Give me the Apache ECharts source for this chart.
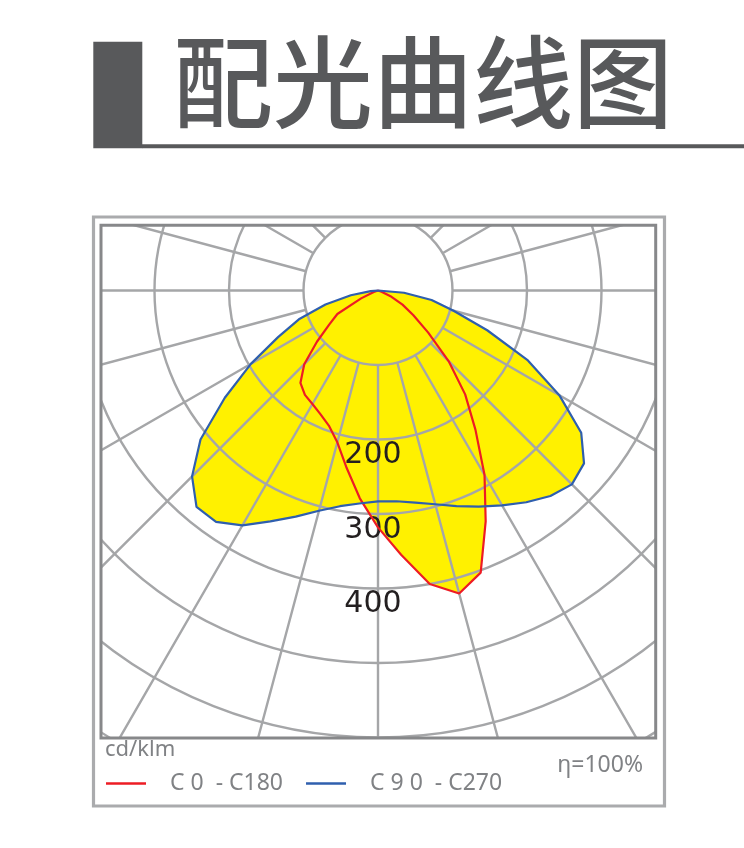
<!DOCTYPE html>
<html>
<head>
<meta charset="utf-8">
<script src="https://cdn.jsdelivr.net/npm/echarts@6/dist/echarts.min.js"></script>
<style>
html,body{margin:0;padding:0;background:#ffffff;}
#chart{width:744px;height:848px;}
</style>
</head>
<body>
<div id="chart"></div>
<script>
// ---- data ----
const titleText = '配光曲线图';
const unitText = 'cd/klm';
const effText = 'η=100%';
const seriesNames = ['C 0  - C180', 'C 9 0  - C270'];
// gamma angle in degrees (0 = straight down, positive = right-hand side)
const gamma = [-90, -85, -80, -75, -70, -65, -60, -55, -50, -45, -40, -35, -30, -25, -20, -15, -10, -5,
  0, 5, 10, 15, 20, 25, 30, 35, 40, 45, 50, 55, 60, 65, 70, 75, 80, 85, 90];
// luminous intensity, cd/klm
const c0c180 = [0, 0, 0, 0, 6, 25, 63, 80, 107, 140, 162, 171, 176, 183, 193, 211, 242, 280,
  318, 356, 400, 421, 403, 342, 286, 228, 182, 134, 88, 58, 38, 20, 5, 0, 0, 0, 0];
const c90c270 = [0, 10, 37, 73, 113, 148, 197, 251, 311, 353, 379, 379, 364, 342, 323, 306, 294, 287,
  283, 284, 289, 297, 308, 320, 333, 347, 360, 368, 361, 333, 281, 222, 156, 105, 73, 35, 0];
const ringLabels = [200, 300, 400];

// ---- colours ----
const gridColor = '#a5a6a8';
const redColor = '#ed1c24';
const blueColor = '#2f5fae';
const fillColor = '#fff100';
const textGray = '#808285';
const darkGray = '#58595b';

const toPolar = (vals) => gamma.map((g, i) => [vals[i], g]);

const chart = echarts.init(document.getElementById('chart'), null, {renderer: 'canvas'});

const center = [378, 290.5];

const option = {
  animation: false,
  backgroundColor: '#ffffff',
  polar: [
    {center: center, radius: [74.5, 596]},
    {center: center, radius: [0, 596]}
  ],
  angleAxis: [
    {
      polarIndex: 0, type: 'value', min: 0, max: 360, interval: 15,
      startAngle: 270, clockwise: false, z: 3,
      axisLine: {show: false}, axisTick: {show: false}, axisLabel: {show: false},
      splitLine: {show: true, lineStyle: {color: gridColor, width: 2.4}}
    },
    {
      polarIndex: 1, type: 'value', min: -180, max: 180,
      startAngle: 90, clockwise: false, show: false
    }
  ],
  radiusAxis: [
    {
      polarIndex: 0, type: 'value', min: 100, max: 800, interval: 100, z: 3,
      axisLine: {show: false}, axisTick: {show: false},
      axisLabel: {
        show: true, margin: 0, align: 'center', verticalAlign: 'top',
        padding: [1, 10, 0, 0],
        color: '#231f20', fontSize: 30, fontFamily: 'DejaVu Sans',
        formatter: function (v) { return ringLabels.indexOf(v) >= 0 ? String(v) : ''; }
      },
      splitLine: {show: true, lineStyle: {color: gridColor, width: 2.4}}
    },
    {polarIndex: 1, type: 'value', min: 0, max: 800, show: false}
  ],
  legend: {
    show: true, left: 106, top: 772, padding: 0, z: 20,
    itemWidth: 40, itemHeight: 2.4, itemGap: 23, icon: 'rect',
    selectedMode: false,
    data: seriesNames,
    textStyle: {color: textGray, fontSize: 23, fontFamily: 'Noto Sans', padding: [0, 0, 0, 19]}
  },
  series: [
    {
      name: 'fill-c0', type: 'line', coordinateSystem: 'polar', polarIndex: 1,
      data: toPolar(c0c180), symbol: 'none', z: 1, silent: true,
      lineStyle: {opacity: 0}, areaStyle: {color: fillColor, opacity: 1}
    },
    {
      name: 'fill-c90', type: 'line', coordinateSystem: 'polar', polarIndex: 1,
      data: toPolar(c90c270), symbol: 'none', z: 1, silent: true,
      lineStyle: {opacity: 0}, areaStyle: {color: fillColor, opacity: 1}
    },
    {
      name: seriesNames[0], type: 'line', coordinateSystem: 'polar', polarIndex: 1,
      data: toPolar(c0c180), symbol: 'none', z: 5,
      itemStyle: {color: redColor}, lineStyle: {color: redColor, width: 2.2}
    },
    {
      name: seriesNames[1], type: 'line', coordinateSystem: 'polar', polarIndex: 1,
      data: toPolar(c90c270), symbol: 'none', z: 5,
      itemStyle: {color: blueColor}, lineStyle: {color: blueColor, width: 2.2}
    }
  ],
  graphic: {
    elements: [
      // masks outside the plot frame
      {type: 'rect', z: 10, silent: true, shape: {x: 0, y: 0, width: 744, height: 225}, style: {fill: '#fff'}},
      {type: 'rect', z: 10, silent: true, shape: {x: 0, y: 0, width: 101, height: 848}, style: {fill: '#fff'}},
      {type: 'rect', z: 10, silent: true, shape: {x: 655.7, y: 0, width: 90, height: 848}, style: {fill: '#fff'}},
      {type: 'rect', z: 10, silent: true, shape: {x: 0, y: 738, width: 744, height: 110}, style: {fill: '#fff'}},
      // frames
      {type: 'rect', z: 11, silent: true, shape: {x: 93.5, y: 217, width: 571, height: 589},
        style: {fill: 'none', stroke: '#aaabad', lineWidth: 3.2}},
      {type: 'rect', z: 11, silent: true, shape: {x: 101, y: 225.3, width: 554.7, height: 512.7},
        style: {fill: 'none', stroke: '#87888a', lineWidth: 3}},
      // title block
      {type: 'rect', z: 12, silent: true, shape: {x: 93.3, y: 41.7, width: 49, height: 106.5}, style: {fill: darkGray}},
      {type: 'rect', z: 12, silent: true, shape: {x: 142, y: 144.3, width: 602, height: 4}, style: {fill: darkGray}},
      {type: 'text', z: 12, silent: true, x: 173, y: 82,
        style: {text: titleText, fill: darkGray, font: '500 100px "Noto Sans CJK SC"', verticalAlign: 'middle'}},
      // unit and efficiency
      {type: 'text', z: 12, silent: true, x: 105, y: 750,
        style: {text: unitText, fill: textGray, font: '22px "Noto Sans"', verticalAlign: 'middle'}},
      {type: 'text', z: 12, silent: true, x: 643, y: 765,
        style: {text: effText, fill: textGray, font: '23px "Noto Sans"', align: 'right', verticalAlign: 'middle'}}
    ]
  }
};

chart.setOption(option);
</script>
</body>
</html>
